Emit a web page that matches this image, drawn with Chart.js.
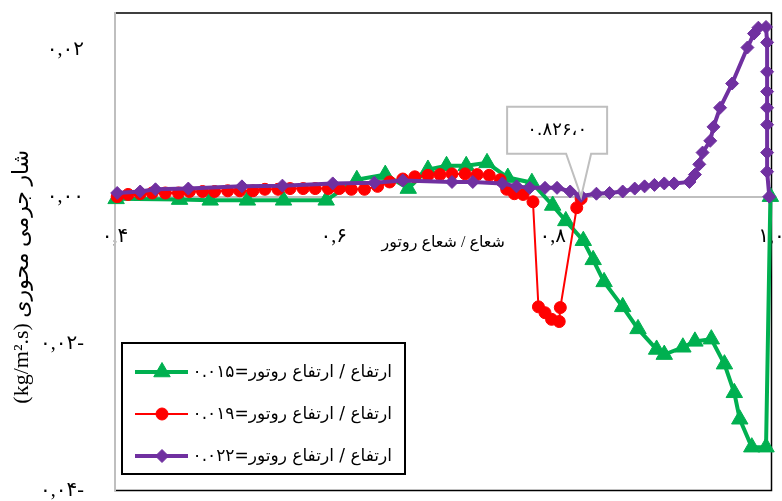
<!DOCTYPE html>
<html>
<head>
<meta charset="utf-8">
<script src="https://cdn.jsdelivr.net/npm/chart.js@4.4.1/dist/chart.umd.min.js"></script>
<style>
  body { margin: 0; background: #fff; }
  #wrap { width: 782px; height: 501px; }
</style>
</head>
<body>
<div id="wrap"><canvas id="myChart"></canvas></div>
<script>
// series labels (legend)
var labels = [
  "ارتفاع / ارتفاع روتور=۰.۰۱۵",
  "ارتفاع / ارتفاع روتور=۰.۰۱۹",
  "ارتفاع / ارتفاع روتور=۰.۰۲۲"
];
var barColors = ["#00b050", "#ff0000", "#7030a0"];

// h = 0.015 (green, triangles)
var g015X = [0.401, 0.459, 0.487, 0.521, 0.554, 0.593, 0.621, 0.647, 0.668, 0.686, 0.703, 0.721, 0.740, 0.759, 0.781,
  0.800, 0.812, 0.828, 0.837, 0.847, 0.864, 0.878, 0.895, 0.902, 0.919, 0.930, 0.945, 0.957, 0.966, 0.971, 0.982, 0.995, 0.999];
var g015Y = [-0.0003, -0.0004, -0.0005, -0.0005, -0.0005, -0.0005, 0.0023, 0.0030, 0.0011, 0.0037, 0.0042, 0.0042, 0.0046, 0.0026, 0.0019,
  -0.0012, -0.0033, -0.0060, -0.0086, -0.0116, -0.0150, -0.0180, -0.0208, -0.0215, -0.0205, -0.0197, -0.0194, -0.0228, -0.0267, -0.0303, -0.0341, -0.0341, 0.0];

// h = 0.019 (red, circles)
var r019X = [0.402, 0.412, 0.423, 0.434, 0.446, 0.458, 0.468, 0.480, 0.491, 0.503, 0.514, 0.526, 0.537, 0.549, 0.560, 0.572,
  0.583, 0.595, 0.605, 0.616, 0.628, 0.640, 0.651, 0.663, 0.674, 0.686, 0.697, 0.708, 0.720, 0.731, 0.742, 0.752, 0.758,
  0.765, 0.773, 0.782, 0.787, 0.793, 0.799, 0.806, 0.807, 0.822, 0.826];
var r019Y = [0.0, 0.0003, 0.0004, 0.0005, 0.0005, 0.0005, 0.0007, 0.0007, 0.0007, 0.0008, 0.0008, 0.0008, 0.0010, 0.0010, 0.0011, 0.0011,
  0.0011, 0.0011, 0.0011, 0.0010, 0.0010, 0.0014, 0.0020, 0.0024, 0.0027, 0.0029, 0.0030, 0.0031, 0.0031, 0.0030, 0.0029, 0.0023, 0.0010,
  0.0004, 0.0003, -0.0007, -0.0150, -0.0158, -0.0167, -0.0170, -0.0151, -0.0015, -0.0003];

// h = 0.022 (purple, diamonds)
var p022X = [0.402, 0.423, 0.437, 0.467, 0.516, 0.553, 0.599, 0.637, 0.663, 0.708, 0.727, 0.754, 0.767, 0.779, 0.793, 0.804,
  0.816, 0.826, 0.840, 0.852, 0.864, 0.875, 0.884, 0.893, 0.902, 0.911, 0.925, 0.930, 0.934, 0.937, 0.944, 0.947, 0.953,
  0.964, 0.978, 0.984, 0.988, 0.995, 0.996, 0.996, 0.996, 0.996, 0.996, 0.996, 0.996, 0.998];
var p022Y = [0.0005, 0.0007, 0.0010, 0.0011, 0.0014, 0.0015, 0.0018, 0.0019, 0.0022, 0.0020, 0.0020, 0.0018, 0.0014, 0.0012, 0.0012, 0.0012,
  0.0007, 0.0001, 0.0004, 0.0005, 0.0007, 0.0011, 0.0014, 0.0016, 0.0018, 0.0018, 0.0020, 0.0030, 0.0044, 0.0060, 0.0076, 0.0095, 0.0121,
  0.0154, 0.0203, 0.0222, 0.0230, 0.0231, 0.0210, 0.0170, 0.0143, 0.0121, 0.0098, 0.0060, 0.0034, 0.0];

var yTicks = [-0.04, -0.02, 0, 0.02];
var xTicks = [0.4, 0.6, 0.8, 1.0];
var xTitle = "شعاع / شعاع روتور";
var yTitle = "(kg/m².s) شار جرمی محوری";
var calloutText = "۰.۸۲۶،۰";
var calloutAt = [0.826, 0];

function fa(s) {
  return s.replace(/[0-9]/g, function (d) { return "۰۱۲۳۴۵۶۷۸۹"[d]; });
}
function pts(xs, ys) {
  return xs.map(function (x, i) { return { x: x, y: ys[i] }; });
}

var pointStyles = ["triangle", "circle", "rectRot"];
var pointSizes = [9.5, 6, 6.5];
var lineWidths = [4, 2, 4];

var extras = {
  id: "extras",
  beforeDraw: function (chart) {
    var a = chart.chartArea, ctx = chart.ctx;
    ctx.save();
    ctx.strokeStyle = "#000";
    ctx.lineWidth = 1.5;
    ctx.strokeRect(a.left, a.top, a.right - a.left, a.bottom - a.top);
    ctx.restore();
  },
  afterDatasetsDraw: function (chart) {
    var a = chart.chartArea, ctx = chart.ctx;
    var xs = chart.scales.x, ys = chart.scales.y;
    ctx.save();
    ctx.direction = "ltr";

    // callout
    var px = xs.getPixelForValue(calloutAt[0]), py = ys.getPixelForValue(calloutAt[1]);
    var L = px - 74, R = px + 26, T = py - 90, B = py - 43;
    ctx.beginPath();
    ctx.moveTo(L, T); ctx.lineTo(R, T); ctx.lineTo(R, B);
    ctx.lineTo(px + 10, B); ctx.lineTo(px, py); ctx.lineTo(px - 15, B);
    ctx.lineTo(L, B); ctx.closePath();
    ctx.fillStyle = "#fff"; ctx.fill();
    ctx.strokeStyle = "#bfbfbf"; ctx.lineWidth = 2; ctx.stroke();
    ctx.fillStyle = "#000";
    ctx.font = "18px 'DejaVu Sans'";
    ctx.textAlign = "center"; ctx.textBaseline = "middle";
    ctx.fillText(calloutText, (L + R) / 2, (T + B) / 2);

    // axis titles
    ctx.font = "16px 'Liberation Serif', 'DejaVu Sans'";
    ctx.fillText(xTitle, (a.left + a.right) / 2, ys.getPixelForValue(0) + 46);
    ctx.save();
    ctx.font = "22px 'Liberation Serif', 'DejaVu Sans'";
    ctx.translate(22, (a.top + a.bottom) / 2 + 25);
    ctx.rotate(-Math.PI / 2);
    ctx.fillText(yTitle, 0, 0);
    ctx.restore();

    // legend
    var bx = a.left + 7, by = a.top + 330, bw = 283, bh = 131;
    ctx.fillStyle = "#fff";
    ctx.fillRect(bx, by, bw, bh);
    ctx.strokeStyle = "#000"; ctx.lineWidth = 2;
    ctx.strokeRect(bx, by, bw, bh);
    ctx.font = "17px 'DejaVu Sans'";
    ctx.textAlign = "right";
    chart.data.datasets.forEach(function (ds, i) {
      var ry = by + 29 + i * 42;
      ctx.strokeStyle = ds.borderColor; ctx.lineWidth = ds.borderWidth;
      ctx.beginPath(); ctx.moveTo(bx + 13, ry); ctx.lineTo(bx + 66, ry); ctx.stroke();
      ctx.fillStyle = ds.pointBackgroundColor; ctx.strokeStyle = ds.pointBorderColor; ctx.lineWidth = 1;
      Chart.helpers.drawPoint(ctx, { pointStyle: ds.pointStyle, radius: ds.pointRadius, rotation: 0, borderWidth: 1 }, bx + 40, ry);
      ctx.fillStyle = "#000";
      ctx.fillText(ds.label, bx + 270, ry + 1);
    });
    ctx.restore();
  }
};

var allX = [g015X, r019X, p022X], allY = [g015Y, r019Y, p022Y];

new Chart("myChart", {
  type: "line",
  data: {
    datasets: labels.map(function (lab, i) {
      return {
        label: lab,
        data: pts(allX[i], allY[i]),
        borderColor: barColors[i],
        backgroundColor: barColors[i],
        pointBackgroundColor: barColors[i],
        pointBorderColor: barColors[i],
        borderWidth: lineWidths[i],
        pointStyle: pointStyles[i],
        pointRadius: pointSizes[i],
        pointBorderWidth: 1,
        tension: 0,
        clip: false,
        order: 3 - i
      };
    })
  },
  options: {
    responsive: true,
    maintainAspectRatio: false,
    animation: false,
    layout: { padding: { top: 13, right: 10, bottom: 10, left: 0 } },
    plugins: { legend: { display: false }, tooltip: { enabled: false } },
    scales: {
      x: {
        type: "linear",
        min: 0.4, max: 1.0,
        position: { y: 0 },
        afterBuildTicks: function (s) { s.ticks = xTicks.map(function (v) { return { value: v }; }); },
        afterFit: function (s) { s.paddingLeft = 0; s.paddingRight = 0; s.paddingTop = 0; s.paddingBottom = 0; },
        ticks: {
          padding: 28, color: "#000", maxRotation: 0, autoSkip: false,
          font: { family: "'Liberation Serif', 'DejaVu Sans'", size: 20 },
          callback: function (v) { return fa(Number(v).toFixed(1)).replace(".", ","); }
        },
        grid: { display: false, drawTicks: false },
        border: { color: "#bfbfbf", width: 2 }
      },
      y: {
        min: -0.04, max: 0.025,
        afterBuildTicks: function (s) { s.ticks = yTicks.map(function (v) { return { value: v }; }); },
        afterFit: function (s) { s.width = 115; s.paddingTop = 0; s.paddingBottom = 0; s.paddingLeft = 0; s.paddingRight = 0; },
        ticks: {
          padding: 31, color: "#000",
          font: { family: "'Liberation Serif', 'DejaVu Sans'", size: 20 },
          callback: function (v) {
            var s = fa(Math.abs(v).toFixed(2)).replace(".", ",");
            return v < 0 ? s + "-" : s;
          }
        },
        grid: { display: false, drawTicks: false },
        border: { color: "#bfbfbf", width: 2 }
      }
    }
  },
  plugins: [extras]
});
</script>
</body>
</html>
